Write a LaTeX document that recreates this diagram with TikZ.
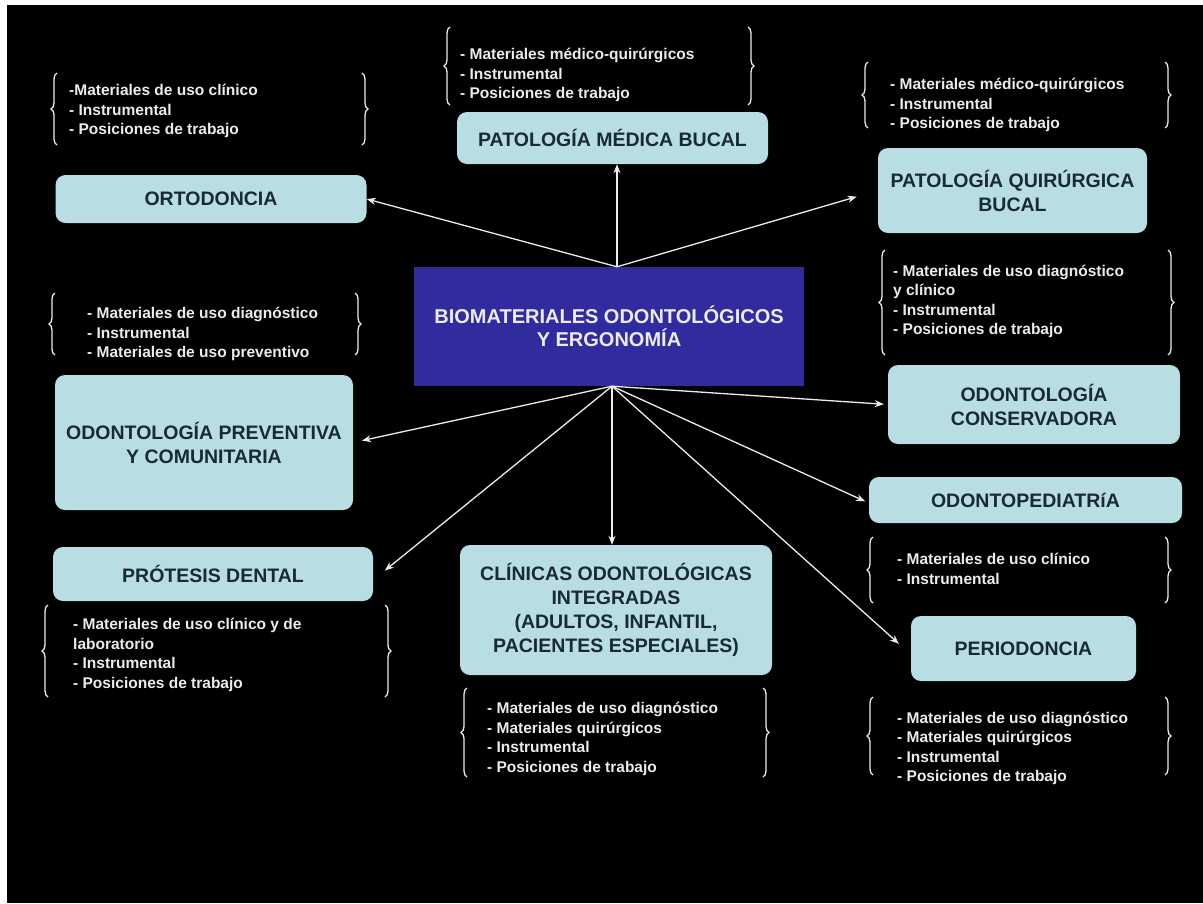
\documentclass[tikz,border=0pt]{standalone}
\usepackage{fontspec}
\setmainfont{Liberation Sans}
\usetikzlibrary{decorations.pathreplacing,arrows.meta}
\definecolor{celeste}{RGB}{184,222,228}
\definecolor{azulbio}{RGB}{48,44,160}
\definecolor{tinta}{RGB}{25,42,48}
\definecolor{blanco}{RGB}{236,236,236}
\tikzset{
  caja/.style={fill=celeste, rounded corners=10pt, inner sep=0pt, align=center,
    text=tinta, font=\bfseries\fontsize{19.5}{24}\selectfont},
  lista/.style={anchor=west, inner sep=0pt, align=left, text=blanco,
    font=\bfseries\fontsize{15.5}{19.5}\selectfont},
  llave/.style={draw=blanco, line width=1.3pt, decorate,
    decoration={brace,amplitude=6pt}},
  flecha/.style={->,>={Stealth[length=9pt,width=7pt]}, draw=blanco, line width=1.3pt}
}
\begin{document}
\begin{tikzpicture}[x=1pt,y=-1pt]
        \useasboundingbox (0,0) rectangle (1203,903);
        \fill[white] (0,0) rectangle (1203,903);
        \fill[black] (7,5) rectangle (1203,903);

        %%%%%%%%%% Cajas %%%%%%%%%%
        \node[fill=azulbio, inner sep=0pt, minimum width=390pt, minimum height=119pt, align=center,
          text=blanco, font=\bfseries\fontsize{20}{23}\selectfont] (bio) at (609,326.5)
          {BIOMATERIALES ODONTOLÓGICOS\\Y ERGONOMÍA};
        \node[caja, minimum width=311pt, minimum height=48pt] (orto) at (211,199) {ORTODONCIA};
        \node[caja, minimum width=311pt, minimum height=52pt] (patmed) at (612.5,138) {PATOLOGÍA MÉDICA BUCAL};
        \node[caja, minimum width=269pt, minimum height=85pt] (patqui) at (1012.5,190.5) {PATOLOGÍA QUIRÚRGICA\\BUCAL};
        \node[caja, minimum width=298pt, minimum height=135pt] (prev) at (204,442.5) {ODONTOLOGÍA PREVENTIVA\\Y COMUNITARIA};
        \node[caja, minimum width=292pt, minimum height=79pt] (cons) at (1034,404.5) {ODONTOLOGÍA\\CONSERVADORA};
        \node[caja, minimum width=313pt, minimum height=46pt] (pedia) at (1025.5,500) {ODONTOPEDIATRíA};
        \node[caja, minimum width=320pt, minimum height=54pt] (protesis) at (213,574) {PRÓTESIS DENTAL};
        \node[caja, minimum width=312pt, minimum height=130pt] (clin) at (616,610)
          {CLÍNICAS ODONTOLÓGICAS\\INTEGRADAS\\(ADULTOS, INFANTIL,\\PACIENTES ESPECIALES)};
        \node[caja, minimum width=225pt, minimum height=65pt] (perio) at (1023.5,648.5) {PERIODONCIA};

        %%%%%%%%%% Listas %%%%%%%%%%
        \node[lista] (ortoL) at (69,111) {-Materiales de uso clínico\\- Instrumental\\- Posiciones de trabajo};
        \node[lista] (patmedL) at (460,75) {- Materiales médico-quirúrgicos\\- Instrumental\\- Posiciones de trabajo};
        \node[lista] (patquiL) at (890,105) {- Materiales médico-quirúrgicos\\- Instrumental\\- Posiciones de trabajo};
        \node[lista] (prevL) at (87,334) {- Materiales de uso diagnóstico\\- Instrumental\\- Materiales de uso preventivo};
        \node[lista] (consL) at (893,301.5) {- Materiales de uso diagnóstico\\y clínico\\- Instrumental\\- Posiciones de trabajo};
        \node[lista] (pediaL) at (897,569) {- Materiales de uso clínico\\- Instrumental};
        \node[lista] (perioL) at (897,748.5) {- Materiales de uso diagnóstico\\- Materiales quirúrgicos\\- Instrumental\\- Posiciones de trabajo};
        \node[lista] (protL) at (73,655) {- Materiales de uso clínico y de\\laboratorio\\- Instrumental\\- Posiciones de trabajo};
        \node[lista] (clinL) at (487,739) {- Materiales de uso diagnóstico\\- Materiales quirúrgicos\\- Instrumental\\- Posiciones de trabajo};

        %%%%%%%%% Llaves %%%%%%%%%
        \draw[llave] (57,145) -- (57,73);   \draw[llave] (362,73) -- (362,145);
        \draw[llave] (450,105) -- (450,27); \draw[llave] (748,27) -- (748,105);
        \draw[llave] (868,128) -- (868,62); \draw[llave] (1165,62) -- (1165,128);
        \draw[llave] (55,355) -- (55,293);  \draw[llave] (355,293) -- (355,355);
        \draw[llave] (885,355) -- (885,250); \draw[llave] (1168,250) -- (1168,355);
        \draw[llave] (873,603) -- (873,537); \draw[llave] (1165,537) -- (1165,603);
        \draw[llave] (873,775) -- (873,697); \draw[llave] (1165,697) -- (1165,775);
        \draw[llave] (48,697) -- (48,605);  \draw[llave] (385,605) -- (385,697);
        \draw[llave] (467,777) -- (467,688); \draw[llave] (763,688) -- (763,777);

        %%%%%%%%% Frecce %%%%%%%%%
        \draw[flecha] ([xshift=8pt]bio.north) -- (orto.east);
        \draw[flecha] ([xshift=8pt]bio.north) -- ([xshift=8pt]bio.north |- patmed.south);
        \draw[flecha, shorten >=22pt] ([xshift=8pt]bio.north) -- (patqui.west);
        \draw[flecha, shorten >=9pt] ([xshift=3pt]bio.south) -- (prev.east);
        \draw[flecha, shorten >=4pt] ([xshift=3pt]bio.south) -- (cons.west);
        \draw[flecha, shorten >=4pt] ([xshift=3pt]bio.south) -- ([yshift=-3pt]pedia.west);
        \draw[flecha, shorten >=15pt] ([xshift=3pt]bio.south) -- ([yshift=-6pt]protesis.east);
        \draw[flecha] ([xshift=3pt]bio.south) -- ([xshift=3pt]bio.south |- clin.north);
        \draw[flecha, shorten >=16pt] ([xshift=3pt]bio.south) -- ([yshift=-6pt]perio.west);
    \end{tikzpicture}
\end{document}
